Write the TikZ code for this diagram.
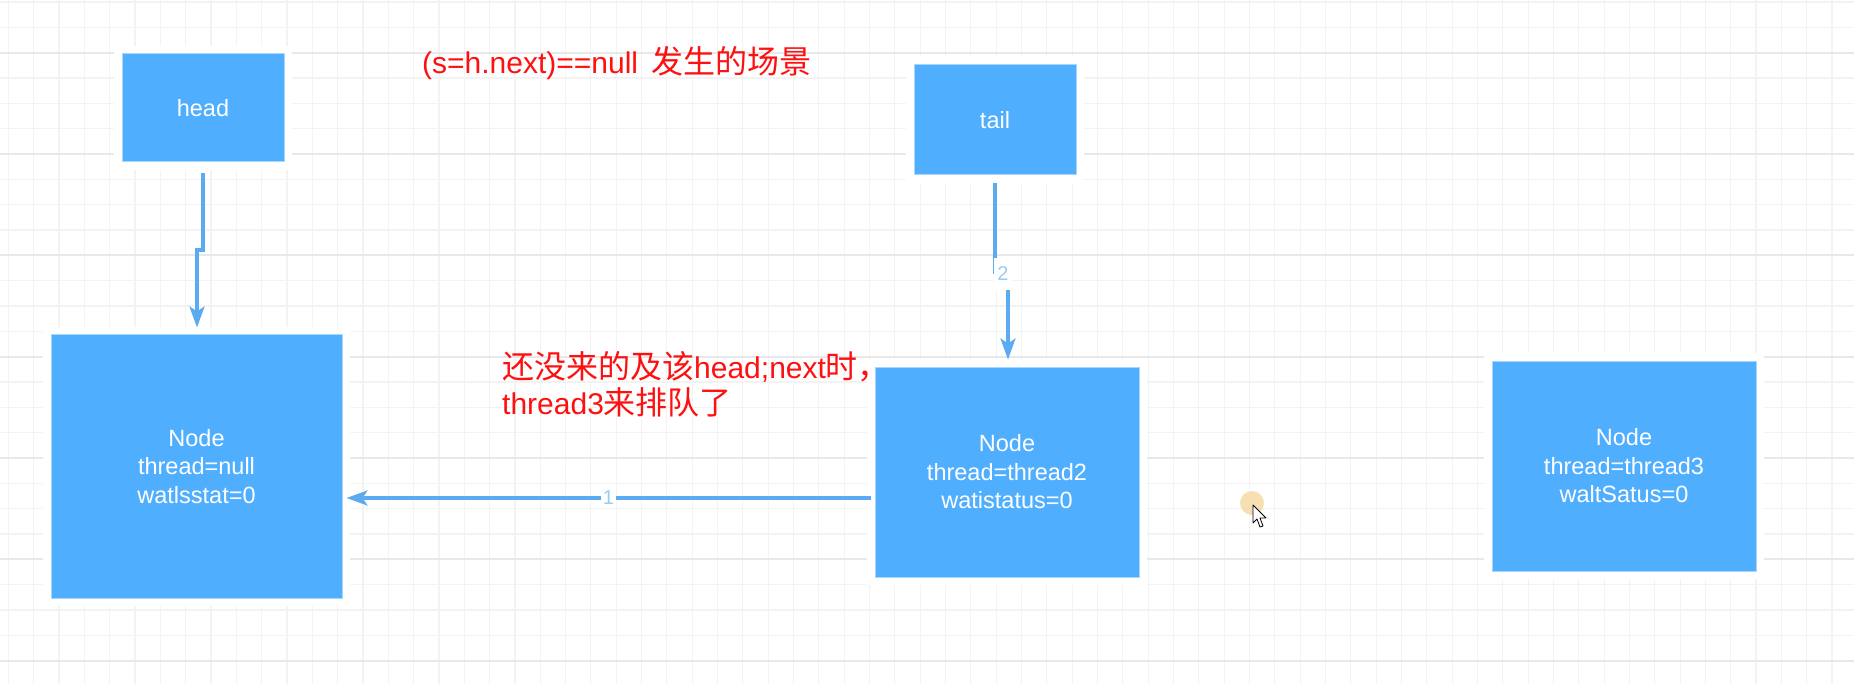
\documentclass[tikz,border=0pt]{standalone}
\usepackage{fontspec}
\setmainfont{Liberation Sans}
\newfontfamily\cjk{Noto Sans CJK SC}
\usetikzlibrary{arrows.meta}
\definecolor{boxblue}{HTML}{50AEFF}
\definecolor{boxedge}{HTML}{A6D8FF}
\definecolor{arrblue}{HTML}{5AABF2}
\definecolor{lblblue}{HTML}{9CCBF0}
\definecolor{gridminor}{HTML}{F3F3F3}
\definecolor{gridmajor}{HTML}{E8E8E8}
\definecolor{redtxt}{HTML}{FF1010}
\definecolor{cursorglow}{HTML}{F6D89E}
\newcommand{\cjkbig}[1]{{\cjk\fontsize{32}{35}\selectfont #1}}
\begin{document}
\begin{tikzpicture}[x=1pt,y=-1pt,
  boxst/.style={fill=boxblue, draw=boxedge, line width=1pt, text=white,
    align=center, inner sep=0pt, font=\fontsize{23.5}{28.5}\selectfont},
  halo/.style={fill=white, draw=none},
  arr/.style={draw=arrblue, line width=3.2pt,
    -{Stealth[length=21pt,width=15pt,inset=5pt]}},
  lbl/.style={fill=white, text=lblblue, inner sep=1.5pt,
    font=\fontsize{20}{20}\selectfont},
  note/.style={text=redtxt, anchor=west, inner sep=0pt,
    font=\fontsize{30}{35}\selectfont}]
\useasboundingbox (0,0) rectangle (1854,684);
\fill[white] (0,0) rectangle (1854,684);
% grid
\foreach \i in {0,...,73} \draw[gridminor, line width=1.2pt] ({8.3+\i*25.33},0) -- ({8.3+\i*25.33},684);
\foreach \j in {0,...,26} \draw[gridminor, line width=1.2pt] (0,{2.1+\j*25.33}) -- (1854,{2.1+\j*25.33});
\foreach \j in {0,...,6} \draw[gridmajor, line width=1.8pt] (0,{52.7+\j*101.33}) -- (1854,{52.7+\j*101.33});
% halos
\fill[halo] (114,46) rectangle (292,170);
\fill[halo] (906,57) rectangle (1084,183);
\fill[halo] (43,327) rectangle (350,606);
\fill[halo] (867,359) rectangle (1147,585);
\fill[halo] (1484,353) rectangle (1764,579);
% boxes
\node[boxst, minimum width=162pt, minimum height=108pt] (head) at (203,108) {head};
\node[boxst, minimum width=162pt, minimum height=110pt] (tail) at (995,120) {tail};
\node[boxst, minimum width=291pt, minimum height=263pt] (n1) at (196.5,466.5) {Node\\thread=null\\watlsstat=0};
\node[boxst, minimum width=264pt, minimum height=210pt] (n2) at (1007,472) {Node\\thread=thread2\\watistatus=0};
\node[boxst, minimum width=264pt, minimum height=210pt] (n3) at (1624,466) {Node\\thread=thread3\\waltSatus=0};
% connectors
\coordinate (hj1) at (203,250);
\coordinate (hj2) at (197,250);
\draw[arr] ([yshift=-11pt]head.south) -- (hj1) -- (hj2) -- ([xshift=0.5pt,yshift=7pt]n1.north);
\coordinate (tj1) at (995,272);
\coordinate (tj2) at (1008,272);
\draw[arr] ([yshift=-8pt]tail.south) -- (tj1) -- (tj2) -- ([xshift=1pt,yshift=7pt]n2.north);
\node[lbl, minimum height=32pt, minimum width=18pt] (l2) at (1003,274) {2};
\draw[arr] ([xshift=-4pt,yshift=-26pt]n2.west) -- ([xshift=4pt,yshift=-31.5pt]n1.east)
  node[lbl, pos=0.5] (l1) {1};
% notes
\node[note] (t1) at (422,63) {(s=h.next)==null\hspace{13pt}\cjkbig{发生的场景}};
\node[note] (t2) at (502,367) {\cjkbig{还没来的及该}head;next\cjkbig{时，}};
\node[note] (t3) at (502,402) {thread3\cjkbig{来排队了}};
% cursor
\fill[cursorglow, opacity=0.8] (1252,503) circle (12pt);
\draw[black, line width=0.8pt, fill=white, line join=round] (1253,505) -- (1253,523) -- (1257,519) -- (1260,527) -- (1263,526) -- (1260,518) -- (1266,518) -- cycle;
\end{tikzpicture}
\end{document}
